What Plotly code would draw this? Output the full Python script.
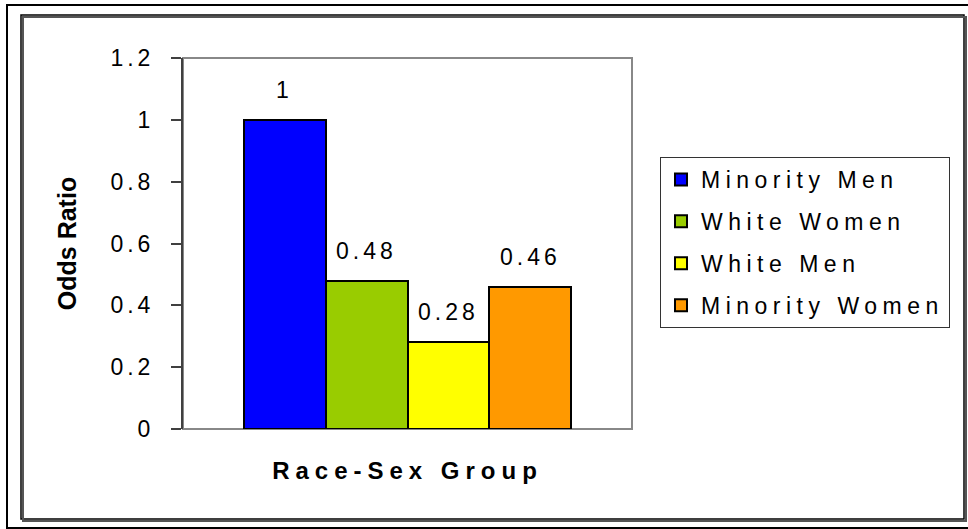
import plotly.graph_objects as go

# Odds ratio by race-sex group
groups = ["Minority Men", "White Women", "White Men", "Minority Women"]
odds_ratio = [1.0, 0.48, 0.28, 0.46]
bar_colors = ["#0000FF", "#99CC00", "#FFFF00", "#FF9900"]
y_tick_vals = [0, 0.2, 0.4, 0.6, 0.8, 1.0, 1.2]
y_tick_text = ["0", "0.2", "0.4", "0.6", "0.8", "1", "1.2"]

W, H = 968, 529
# plot-area box in pixels
L, R, T, B = 183, 632, 58, 429
PW, PH = R - L, B - T


def px_x(p):
    return (p - L) / PW


def px_y(p):
    return (B - p) / PH


def spaced(s, sp):
    return f"<span style='letter-spacing:{sp}px'>{s}</span>"


FONT = "Arial, Liberation Sans, sans-serif"

fig = go.Figure()
for name, val, col in zip(groups, odds_ratio, bar_colors):
    fig.add_trace(go.Bar(
        x=[name], y=[val], width=1.0, name=spaced(name, 5.5),
        legendgroup=name,
        marker=dict(color=col, line=dict(color="black", width=2)),
        hoverinfo="skip",
    ))

annotations = []
for name, val in zip(groups, odds_ratio):
    annotations.append(dict(
        x=name, y=val, xref="x", yref="y", text=spaced(f"{val:g}", 4),
        showarrow=False, yanchor="bottom", yshift=15,
        font=dict(family=FONT, size=23, color="black"),
    ))

shapes = []
# outer frame
shapes.append(dict(type="rect", xref="paper", yref="paper",
                   x0=px_x(7), x1=px_x(990), y0=px_y(528), y1=px_y(5),
                   line=dict(color="black", width=2), fillcolor="rgba(0,0,0,0)"))
# inner frame shadow, then frame
shapes.append(dict(type="rect", xref="paper", yref="paper",
                   x0=px_x(23), x1=px_x(966), y0=px_y(521), y1=px_y(17),
                   line=dict(color="#555555", width=2), fillcolor="rgba(0,0,0,0)"))
shapes.append(dict(type="rect", xref="paper", yref="paper",
                   x0=px_x(21), x1=px_x(964), y0=px_y(519), y1=px_y(15),
                   line=dict(color="black", width=1.5), fillcolor="white", layer="below"))
# plot-area border
shapes.append(dict(type="rect", xref="paper", yref="paper",
                   x0=0, x1=1, y0=0, y1=1,
                   line=dict(color="#888888", width=2), fillcolor="rgba(0,0,0,0)",
                   layer="below"))

fig.update_layout(
    width=W, height=H,
    margin=dict(l=L, r=W - R, t=T, b=H - B, pad=0),
    paper_bgcolor="white", plot_bgcolor="white",
    barmode="overlay", bargap=0,
    font=dict(family=FONT, size=23, color="black"),
    showlegend=True,
    legend=dict(
        x=px_x(660), y=px_y(157), xanchor="left", yanchor="top",
        bordercolor="#333333", borderwidth=1, bgcolor="white",
        font=dict(family=FONT, size=23, color="black"),
        traceorder="grouped", tracegroupgap=9,
    ),
    xaxis=dict(
        range=[-1.246, 4.246], showticklabels=False, ticks="",
        showgrid=False, zeroline=False, showline=False,
        title=dict(text="<b>" + spaced("Race-Sex Group", 6) + "</b>",
                   font=dict(family=FONT, size=24, color="black"), standoff=33),
    ),
    yaxis=dict(
        range=[0, 1.2], tickvals=y_tick_vals,
        ticktext=[spaced(t, 4) for t in y_tick_text],
        ticks="outside", ticklen=10, tickwidth=1.5, tickcolor="#404040",
        showline=True, linecolor="#404040", linewidth=2,
        showgrid=False, zeroline=False, ticklabelstandoff=12,
        tickfont=dict(family=FONT, size=23, color="black"),
        title=dict(text="<b>Odds Ratio</b>",
                   font=dict(family=FONT, size=25, color="black"), standoff=27),
    ),
    annotations=annotations,
    shapes=shapes,
)

fig.write_html("out.html")
